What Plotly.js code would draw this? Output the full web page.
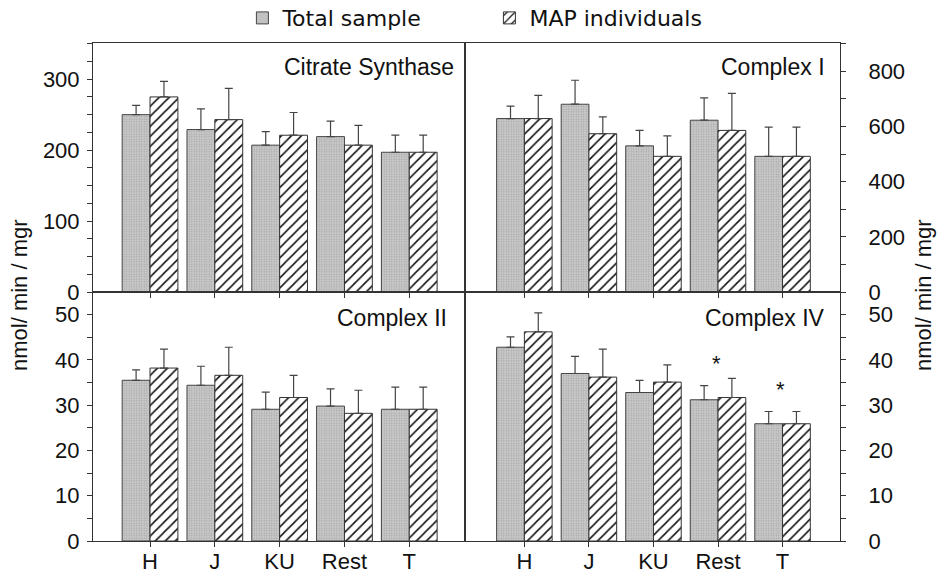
<!DOCTYPE html>
<html>
<head>
<meta charset="utf-8">
<script src="https://cdn.plot.ly/plotly-3.0.1.min.js"></script>
<style>html,body{margin:0;padding:0;background:#fff;}#chart{width:937px;height:571px;}</style>
</head>
<body>
<div id="chart"></div>
<script>
// ---- data ----
var categories = ['H', 'J', 'KU', 'Rest', 'T'];
var seriesNames = ['Total sample', 'MAP individuals'];
var panelTitles = ['Citrate Synthase', 'Complex I', 'Complex II', 'Complex IV'];

var csTotal = [250, 229, 207, 219, 197];
var csTotalErr = [13, 29, 19, 22, 24];
var csMap = [275, 243, 221, 207, 197];
var csMapErr = [22, 44, 32, 28, 24];

var c1Total = [629, 681, 530, 623, 492];
var c1TotalErr = [45, 87, 56, 81, 106];
var c1Map = [629, 574, 492, 586, 492];
var c1MapErr = [84, 61, 74, 134, 106];

var c2Total = [35.5, 34.4, 29.1, 29.8, 29.1];
var c2TotalErr = [2.3, 4.2, 3.8, 3.8, 4.9];
var c2Map = [38.2, 36.6, 31.7, 28.2, 29.1];
var c2MapErr = [4.2, 6.2, 4.9, 5.1, 4.9];

var c4Total = [42.8, 37.0, 32.8, 31.2, 25.9];
var c4TotalErr = [2.3, 3.8, 2.7, 3.1, 2.7];
var c4Map = [46.2, 36.2, 35.1, 31.7, 25.9];
var c4MapErr = [4.2, 6.2, 3.8, 4.2, 2.7];

var starCats = ['Rest', 'T'];
var starVals = [40.2, 34.3];

var yLabel = 'nmol/ min / mgr';

// ---- styles ----
var FONT = '"Liberation Sans", Arial, Helvetica, sans-serif';
var LEGFONT = '"DejaVu Sans", "Liberation Sans", Arial, sans-serif';
var totalMarker = {
  color: '#c6c6c6',
  line: {color: '#444', width: 1},
  pattern: {shape: '.', bgcolor: '#cacaca', fgcolor: '#a6a6a6', size: 2.5, solidity: 0.3}
};
var mapMarker = {
  color: 'white',
  line: {color: '#333', width: 1},
  pattern: {shape: '/', bgcolor: 'white', fgcolor: '#111', size: 7.1, solidity: 0.22}
};

function errCfg(arr) {
  return {type: 'data', symmetric: false, array: arr, arrayminus: arr.map(function(){return 0;}),
          color: '#444', thickness: 1.2, width: 4};
}

var panels = [
  {t: csTotal, te: csTotalErr, m: csMap, me: csMapErr, xa: 'x', ya: 'y'},
  {t: c1Total, te: c1TotalErr, m: c1Map, me: c1MapErr, xa: 'x2', ya: 'y2'},
  {t: c2Total, te: c2TotalErr, m: c2Map, me: c2MapErr, xa: 'x3', ya: 'y3'},
  {t: c4Total, te: c4TotalErr, m: c4Map, me: c4MapErr, xa: 'x4', ya: 'y4'}
];

var traces = [];
panels.forEach(function(p, i) {
  traces.push({type: 'bar', name: seriesNames[0], x: categories, y: p.t, error_y: errCfg(p.te),
    marker: totalMarker, xaxis: p.xa, yaxis: p.ya, showlegend: i === 0, legendgroup: 'a', hoverinfo: 'y'});
  traces.push({type: 'bar', name: seriesNames[1], x: categories, y: p.m, error_y: errCfg(p.me),
    marker: mapMarker, xaxis: p.xa, yaxis: p.ya, showlegend: i === 0, legendgroup: 'b', hoverinfo: 'y'});
});

var tickFont = {family: FONT, size: 22, color: '#111'};
function xAx(domain, anchor, range, labels) {
  return {domain: domain, anchor: anchor, range: range, type: 'category',
    showline: true, linecolor: '#333', linewidth: 1, mirror: true,
    ticks: 'outside', ticklen: 5, tickcolor: '#333', showgrid: false, zeroline: false,
    showticklabels: labels, tickfont: tickFont, ticklabelstandoff: -4, fixedrange: true};
}
function yAx(domain, anchor, range, dtick, minor, side, standoff) {
  return {domain: domain, anchor: anchor, range: range, side: side,
    showline: true, linecolor: '#333', linewidth: 1, mirror: true,
    ticks: 'outside', ticklen: 5, tickcolor: '#333', dtick: dtick, tick0: 0,
    minor: {dtick: minor, ticks: 'outside', ticklen: 5, tickcolor: '#333', showgrid: false},
    showgrid: false, zeroline: false, tickfont: tickFont, ticklabelstandoff: standoff, fixedrange: true};
}

var LX = [0, 0.498], RX = [0.498, 1], TY = [0.5, 1], BY = [0, 0.5];
var lr = [-0.88, 4.86], rr = [-0.92, 4.89];

var annotations = [
  {text: panelTitles[0], xref: 'x domain', yref: 'y domain', x: 0.975, y: 0.905},
  {text: panelTitles[1], xref: 'x2 domain', yref: 'y2 domain', x: 0.965, y: 0.905},
  {text: panelTitles[2], xref: 'x3 domain', yref: 'y3 domain', x: 0.958, y: 0.895},
  {text: panelTitles[3], xref: 'x4 domain', yref: 'y4 domain', x: 0.965, y: 0.895}
].map(function(a) {
  a.xanchor = 'right'; a.yanchor = 'middle'; a.showarrow = false;
  a.font = {family: FONT, size: 23, color: '#111'};
  return a;
});
starCats.forEach(function(c, i) {
  annotations.push({text: '*', x: c, y: starVals[i], xref: 'x4', yref: 'y4', showarrow: false,
    xshift: -2, yshift: -4, font: {family: FONT, size: 22, color: '#111'}});
});
annotations.push({text: yLabel, xref: 'paper', yref: 'paper', x: -0.0977, y: 0.494, textangle: -90,
  xanchor: 'center', yanchor: 'middle', showarrow: false, font: {family: FONT, size: 22, color: '#111'}});
annotations.push({text: yLabel, xref: 'paper', yref: 'paper', x: 1.1124, y: 0.494, textangle: -90,
  xanchor: 'center', yanchor: 'middle', showarrow: false, font: {family: FONT, size: 22, color: '#111'}});

var layout = {
  width: 937, height: 571,
  margin: {l: 93, r: 97, t: 43, b: 30, pad: 0, autoexpand: false},
  paper_bgcolor: 'white', plot_bgcolor: 'white',
  barmode: 'group', bargap: 0.14, bargroupgap: 0,
  font: {family: FONT, size: 22, color: '#111'},
  showlegend: true,
  legend: {orientation: 'h', x: 0.2, xanchor: 'left', y: 1.05, yanchor: 'middle',
    font: {family: LEGFONT, size: 22, color: '#111'}, entrywidth: 202, entrywidthmode: 'pixels',
    bgcolor: 'rgba(0,0,0,0)', itemclick: false, itemdoubleclick: false},
  xaxis: xAx(LX, 'y', lr, false),
  xaxis2: xAx(RX, 'y2', rr, false),
  xaxis3: xAx(LX, 'y3', lr, true),
  xaxis4: xAx(RX, 'y4', rr, true),
  yaxis: yAx(TY, 'x', [0, 351], 100, 25, 'left', 3),
  yaxis2: yAx(TY, 'x2', [0, 903], 200, 100, 'right', 18),
  yaxis3: yAx(BY, 'x3', [0, 55], 10, 5, 'left', 3),
  yaxis4: yAx(BY, 'x4', [0, 55], 10, 5, 'right', 18),
  annotations: annotations
};

Plotly.newPlot('chart', traces, layout, {displayModeBar: false, staticPlot: true});
</script>
</body>
</html>
